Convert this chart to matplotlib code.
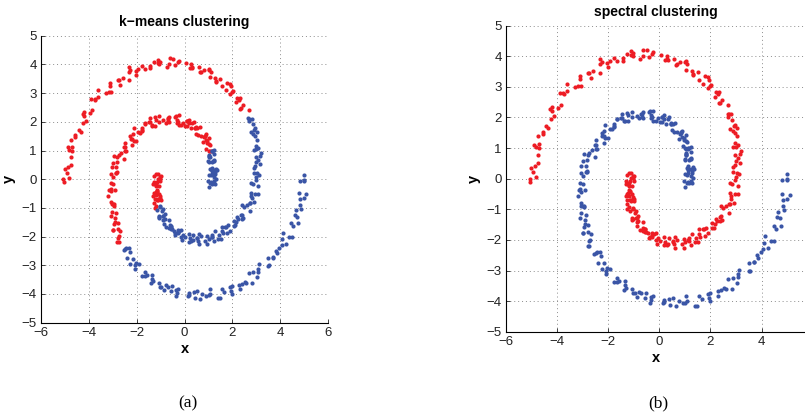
import matplotlib
matplotlib.use("Agg")
import matplotlib.pyplot as plt
import numpy as np

# ---- data: points of the two spiral arms ----
red_arm_x = [
    -0.99, -1.20, -1.09, -1.20, -1.01, -1.31, -1.17, -1.21,
    -1.08, -1.28, -1.13, -1.20, -0.98, -1.32, -1.14, -1.25,
    -1.02, -1.18, -1.02, -1.07, -0.82, -1.06, -0.86, -0.83,
    -0.64, -0.77, -0.56, -0.57, -0.27, -0.53, -0.27, -0.29,
    0.01, -0.06, 0.17, 0.19, 0.52, 0.34, 0.61, 0.70,
    0.95, 0.87, 1.13, 1.17, 1.51, 1.28, 1.57, 1.57,
    1.89, 1.82, 2.06, 2.08, 2.39, 2.20, 2.45, 2.50,
    2.72, 2.60, 2.81, 2.79, 3.06, 2.76, 2.98, 2.89,
    3.11, 2.96, 3.09, 3.00, 3.21, 2.90, 3.01, 2.95,
    3.03, 2.77, 2.85, 2.68, 2.82, 2.38, 2.44, 2.20,
    2.28, 1.97, 1.96, 1.72, 1.78, 1.32, 1.30, 1.09,
    1.04, 0.65, 0.59, 0.30, 0.32, -0.24, -0.28, -0.62,
    -0.63, -1.03, -1.12, -1.43, -1.44, -1.95, -2.01, -2.26,
    -2.34, -2.74, -2.80, -3.10, -3.06, -3.60, -3.61, -3.90,
    -3.85, -4.19, -4.20, -4.42, -4.34, -4.74, -4.69, -4.81,
    -4.75, -5.01, -4.93, -5.05,
    -1.10, -1.27, -1.02, -1.03, -1.24, -1.13, -1.20, -1.29,
    -1.07, -1.13, -1.02, -1.21, -1.09, -1.01, -1.26, -1.11,
    -1.13, -1.25, -0.95, -0.90, -1.05, -0.88, -0.89, -0.91,
    -0.63, -0.62, -0.45, -0.58, -0.38, -0.22, -0.39, -0.15,
    -0.10, -0.13, 0.24, 0.36, 0.29, 0.52, 0.58, 0.62,
    0.96, 1.02, 1.24, 1.16, 1.40, 1.59, 1.45, 1.71,
    1.78, 1.75, 2.13, 2.25, 2.16, 2.38, 2.42, 2.42,
    2.73, 2.75, 2.92, 2.78, 2.95, 3.07, 2.86, 3.03,
    3.00, 2.89, 3.16, 3.17, 2.98, 3.08, 2.98, 2.87,
    3.04, 2.92, 2.96, 2.67, 2.71, 2.69, 2.32, 2.34,
    2.17, 1.90, 2.03, 1.89, 1.55, 1.50, 1.27, 1.01,
    1.05, 0.80, 0.70, 0.29, 0.21, 0.07, -0.40, -0.48,
    -0.74, -1.10, -1.05, -1.26, -1.67, -1.77, -2.04, -2.34,
    -2.33, -2.59, -2.69, -3.11, -3.17, -3.29, -3.73, -3.76,
    -3.96, -4.26, -4.13, -4.25, -4.57, -4.56, -4.72, -4.89,
    -4.74, -4.86, -4.82, -5.06,
]
red_arm_y = [
    0.10, 0.17, 0.18, -0.14, -0.06, -0.17, -0.38, -0.17,
    -0.23, -0.49, -0.44, -0.56, -0.72, -0.57, -0.71, -0.69,
    -0.98, -0.94, -0.95, -1.28, -1.22, -1.35, -1.56, -1.37,
    -1.43, -1.68, -1.63, -1.75, -1.89, -1.73, -1.83, -1.77,
    -2.03, -1.94, -1.90, -2.18, -2.06, -2.12, -2.27, -1.99,
    -1.97, -2.15, -2.00, -2.03, -2.07, -1.80, -1.81, -1.65,
    -1.79, -1.60, -1.45, -1.62, -1.38, -1.33, -1.36, -0.97,
    -0.84, -0.90, -0.65, -0.57, -0.51, -0.14, -0.04, 0.21,
    0.16, 0.45, 0.68, 0.59, 0.90, 1.02, 1.04, 1.49,
    1.66, 1.64, 1.93, 2.03, 2.11, 2.49, 2.58, 2.83,
    2.77, 3.03, 3.23, 3.10, 3.35, 3.41, 3.38, 3.74,
    3.84, 3.73, 3.91, 3.91, 3.88, 4.13, 4.09, 4.21,
    4.00, 4.10, 4.16, 3.86, 3.95, 3.85, 3.64, 3.82,
    3.74, 3.44, 3.44, 3.26, 3.03, 3.10, 2.88, 2.80,
    2.41, 2.34, 2.20, 1.73, 1.65, 1.38, 1.00, 1.03,
    0.79, 0.35, 0.21, -0.11,
    0.01, 0.11, 0.02, 0.09, -0.17, -0.09, -0.25, -0.09,
    -0.51, -0.41, -0.60, -0.46, -0.72, -0.66, -0.83, -0.70,
    -1.07, -1.00, -1.11, -1.05, -1.33, -1.27, -1.43, -1.29,
    -1.71, -1.60, -1.79, -1.65, -1.89, -1.82, -1.95, -1.78,
    -2.12, -2.00, -2.06, -1.95, -2.17, -2.04, -2.14, -1.91,
    -2.25, -2.07, -2.16, -1.93, -2.07, -1.89, -1.93, -1.66,
    -1.88, -1.66, -1.61, -1.39, -1.49, -1.25, -1.23, -0.89,
    -1.12, -0.82, -0.81, -0.47, -0.51, -0.23, -0.16, 0.20,
    0.07, 0.39, 0.52, 0.82, 0.79, 1.10, 1.17, 1.57,
    1.38, 1.72, 1.77, 2.13, 2.11, 2.40, 2.46, 2.82,
    2.68, 2.97, 3.07, 3.33, 3.24, 3.49, 3.51, 3.82,
    3.56, 3.81, 3.75, 4.01, 3.88, 4.04, 3.97, 4.20,
    3.91, 4.04, 4.00, 4.09, 3.84, 3.93, 3.77, 3.90,
    3.46, 3.52, 3.28, 3.36, 3.03, 3.01, 2.76, 2.79,
    2.32, 2.28, 2.04, 1.96, 1.54, 1.46, 1.13, 1.11,
    0.51, 0.43, 0.05, -0.01,
]
blue_arm_x = [
    1.01, 1.25, 0.98, 1.15, 1.14, 1.28, 1.09, 1.24,
    1.15, 1.37, 1.01, 1.16, 1.04, 1.23, 1.04, 1.16,
    1.04, 1.23, 0.91, 1.02, 0.95, 1.03, 0.78, 0.86,
    0.71, 0.86, 0.44, 0.53, 0.33, 0.44, 0.17, 0.20,
    0.01, 0.11, -0.28, -0.24, -0.39, -0.37, -0.69, -0.67,
    -0.88, -0.78, -1.25, -1.21, -1.45, -1.37, -1.67, -1.66,
    -1.87, -1.77, -2.17, -2.13, -2.26, -2.23, -2.53, -2.47,
    -2.65, -2.51, -2.93, -2.83, -3.00, -2.85, -3.08, -2.98,
    -3.09, -2.91, -3.20, -3.05, -3.08, -2.93, -3.09, -2.92,
    -2.96, -2.68, -2.97, -2.72, -2.76, -2.47, -2.54, -2.29,
    -2.26, -1.92, -2.07, -1.77, -1.65, -1.35, -1.38, -1.06,
    -0.97, -0.56, -0.71, -0.34, -0.26, 0.15, 0.18, 0.53,
    0.65, 1.08, 1.01, 1.38, 1.57, 1.92, 1.93, 2.29,
    2.41, 2.83, 2.68, 3.06, 3.12, 3.51, 3.51, 3.81,
    3.87, 4.24, 4.09, 4.37, 4.47, 4.71, 4.61, 4.84,
    4.82, 5.10, 4.81, 5.01,
    1.11, 1.08, 1.02, 1.26, 1.22, 1.33, 1.13, 1.26,
    1.33, 1.07, 1.20, 1.13, 0.99, 1.25, 1.25, 1.05,
    1.14, 1.06, 0.95, 1.13, 1.03, 1.08, 0.82, 0.88,
    0.89, 0.56, 0.63, 0.50, 0.28, 0.46, 0.38, 0.09,
    0.11, -0.06, -0.24, -0.13, -0.31, -0.32, -0.65, -0.65,
    -0.70, -1.08, -1.06, -1.24, -1.50, -1.35, -1.46, -1.77,
    -1.77, -1.94, -2.13, -2.02, -2.18, -2.18, -2.49, -2.45,
    -2.47, -2.81, -2.74, -2.86, -3.05, -2.83, -2.87, -3.09,
    -2.99, -3.08, -3.16, -2.94, -3.00, -2.88, -3.05, -2.90,
    -2.78, -2.98, -2.78, -2.75, -2.81, -2.45, -2.33, -2.40,
    -2.16, -2.09, -2.03, -1.66, -1.57, -1.30, -1.34, -1.04,
    -0.79, -0.86, -0.52, -0.37, -0.31, 0.17, 0.39, 0.42,
    0.75, 0.91, 1.05, 1.49, 1.65, 1.97, 1.97, 2.31,
    2.59, 2.53, 2.87, 3.03, 3.07, 3.53, 3.72, 3.70,
    3.97, 4.07, 4.13, 4.48, 4.55, 4.76, 4.65, 4.86,
    5.00, 4.80, 5.00, 4.98,
]
blue_arm_y = [
    -0.27, -0.08, -0.07, -0.15, 0.18, 0.25, 0.13, 0.31,
    0.32, 0.31, 0.60, 0.60, 0.78, 0.64, 0.84, 0.99,
    0.81, 1.03, 1.06, 0.99, 1.34, 1.43, 1.31, 1.51,
    1.52, 1.50, 1.79, 1.79, 1.95, 1.80, 1.96, 2.07,
    1.86, 2.03, 2.01, 1.89, 2.18, 2.20, 2.02, 2.13,
    2.06, 1.97, 2.16, 2.07, 2.13, 1.87, 1.94, 1.95,
    1.62, 1.69, 1.56, 1.33, 1.50, 1.41, 1.11, 1.11,
    0.93, 0.72, 0.81, 0.61, 0.57, 0.21, 0.17, 0.09,
    -0.33, -0.36, -0.57, -0.88, -0.78, -0.94, -1.29, -1.35,
    -1.57, -1.82, -1.77, -1.99, -2.05, -2.42, -2.45, -2.53,
    -2.94, -2.94, -3.12, -3.39, -3.23, -3.33, -3.63, -3.60,
    -3.75, -3.91, -3.75, -3.87, -3.82, -4.06, -3.96, -3.91,
    -4.17, -4.01, -4.05, -4.15, -3.83, -3.77, -3.89, -3.68,
    -3.65, -3.62, -3.28, -3.22, -2.97, -3.03, -2.75, -2.50,
    -2.58, -2.25, -2.09, -2.02, -1.53, -1.30, -1.25, -0.89,
    -0.70, -0.53, -0.05, 0.15,
    -0.10, -0.14, 0.14, -0.15, 0.08, 0.02, 0.29, 0.17,
    0.37, 0.35, 0.63, 0.40, 0.63, 0.67, 0.88, 0.76,
    0.98, 0.97, 1.27, 0.99, 1.24, 1.20, 1.47, 1.37,
    1.57, 1.54, 1.82, 1.59, 1.80, 1.83, 2.00, 1.84,
    2.03, 1.97, 2.22, 1.89, 2.08, 1.97, 2.18, 1.99,
    2.11, 2.01, 2.19, 1.87, 1.98, 1.90, 1.98, 1.72,
    1.79, 1.63, 1.77, 1.33, 1.40, 1.18, 1.27, 0.97,
    0.98, 0.76, 0.84, 0.41, 0.42, 0.24, 0.21, -0.14,
    -0.16, -0.42, -0.36, -0.88, -0.88, -1.17, -1.13, -1.49,
    -1.52, -1.78, -1.74, -2.19, -2.20, -2.39, -2.41, -2.76,
    -2.77, -3.00, -2.91, -3.39, -3.33, -3.56, -3.47, -3.74,
    -3.70, -3.87, -3.72, -4.07, -3.97, -4.03, -3.92, -4.14,
    -4.00, -4.07, -3.84, -4.15, -3.93, -4.00, -3.73, -3.82,
    -3.60, -3.58, -3.25, -3.42, -3.12, -3.00, -2.71, -2.73,
    -2.41, -2.31, -1.88, -2.02, -1.63, -1.53, -1.09, -1.03,
    -0.65, -0.49, -0.02, -0.05,
]

# k-means centroids (cluster 0 = red, cluster 1 = blue)
kmeans_centroids = [(-1.0, 1.15), (1.0, -1.15)]

titles = ["k\u2212means clustering", "spectral clustering"]
captions = ["(a)", "(b)"]
x_ticks_a = [-6, -4, -2, 0, 2, 4, 6]
x_ticks_b = [-6, -4, -2, 0, 2, 4]
y_ticks = [-5, -4, -3, -2, -1, 0, 1, 2, 3, 4, 5]

RED = "#ED1C24"
BLUE = "#3A55A6"

plt.rcParams["font.family"] = ["Liberation Sans", "DejaVu Sans"]

# ---- assemble ----
xs = np.array(red_arm_x + blue_arm_x)
ys = np.array(red_arm_y + blue_arm_y)
spectral_label = np.array([0] * len(red_arm_x) + [1] * len(blue_arm_x))
cent = np.array(kmeans_centroids)
d = (xs[:, None] - cent[None, :, 0]) ** 2 + (ys[:, None] - cent[None, :, 1]) ** 2
kmeans_label = np.argmin(d, axis=1)

fig = plt.figure(figsize=(8.05, 4.12), dpi=100)
W, H = 805.0, 412.0
ax_a = fig.add_axes([41 / W, 1 - 322.7 / H, 287 / W, 287 / H])
ax_b = fig.add_axes([506 / W, 1 - 331.7 / H, 299 / W, 306 / H])

for ax, labels, title, xt, xlim in [
    (ax_a, kmeans_label, titles[0], x_ticks_a, (-6, 6)),
    (ax_b, spectral_label, titles[1], x_ticks_b, (-6, 5.7)),
]:
    for lab, col in [(0, RED), (1, BLUE)]:
        m = labels == lab
        ax.scatter(xs[m], ys[m], s=9, c=col, linewidths=0, zorder=3)
    ax.set_xlim(*xlim)
    ax.set_ylim(-5, 5)
    ax.set_xticks(xt)
    ax.set_yticks(y_ticks)
    ax.grid(True, linestyle=(0, (1, 3)), color="0.55", linewidth=0.7)
    ax.set_axisbelow(True)
    for s in ["top", "right"]:
        ax.spines[s].set_visible(False)
    for s in ["left", "bottom"]:
        ax.spines[s].set_linewidth(0.8)
    ax.tick_params(direction="in", length=3, width=0.6, labelsize=9.5,
                   pad=3, colors="#222222")
    ax.set_title(title, fontsize=10, fontweight="bold", pad=7)
    ax.set_xlabel("x", fontsize=10.5, fontweight="bold", labelpad=2)
    ax.set_ylabel("y", fontsize=10.5, fontweight="bold", labelpad=4)

fig.text(188 / W, 1 - 403 / H, captions[0], ha="center", va="center",
         fontsize=12.5, family=["Liberation Serif", "DejaVu Serif"])
fig.text(658 / W, 1 - 403 / H, captions[1], ha="center", va="center",
         fontsize=12.5, family=["Liberation Serif", "DejaVu Serif"])

fig.savefig("out.png", dpi=100)
